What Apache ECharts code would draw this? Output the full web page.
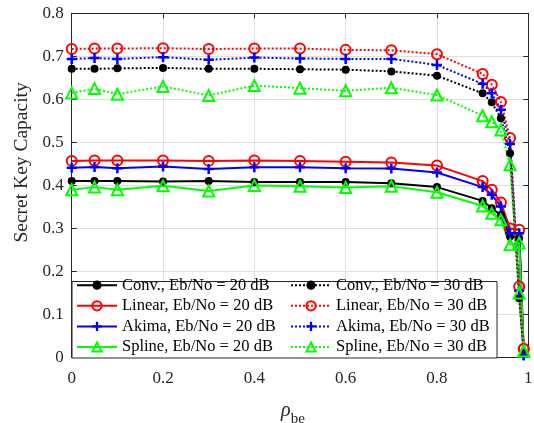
<!DOCTYPE html>
<html>
<head>
<meta charset="utf-8">
<script src="https://cdn.jsdelivr.net/npm/echarts@6/dist/echarts.min.js"></script>
<style>
html,body{margin:0;padding:0;background:#fff;}
#c{width:534px;height:423px;}
</style>
</head>
<body>
<div id="c"></div>
<script>
const rho = [0, 0.05, 0.1, 0.2, 0.3, 0.4, 0.5, 0.6, 0.7, 0.8, 0.9, 0.92, 0.94, 0.96, 0.98, 0.99];

const conv20   = [0.410,0.410,0.410,0.409,0.410,0.408,0.408,0.408,0.405,0.396,0.364,0.347,0.331,0.281,0.277,0.010];
const linear20 = [0.457,0.458,0.458,0.458,0.457,0.458,0.457,0.455,0.453,0.446,0.410,0.390,0.360,0.300,0.297,0.020];
const akima20  = [0.441,0.443,0.440,0.444,0.438,0.442,0.442,0.440,0.439,0.430,0.396,0.378,0.351,0.289,0.289,0.005];
const spline20 = [0.390,0.396,0.390,0.399,0.387,0.400,0.398,0.395,0.398,0.384,0.352,0.335,0.320,0.262,0.266,0.015];

const conv30   = [0.671,0.671,0.672,0.673,0.671,0.671,0.670,0.669,0.665,0.655,0.614,0.593,0.556,0.475,0.138,0.010];
const linear30 = [0.717,0.718,0.718,0.719,0.717,0.718,0.718,0.715,0.714,0.705,0.659,0.634,0.594,0.510,0.165,0.020];
const akima30  = [0.694,0.696,0.694,0.698,0.692,0.697,0.695,0.694,0.694,0.680,0.636,0.614,0.576,0.496,0.155,0.005];
const spline30 = [0.615,0.625,0.612,0.630,0.609,0.632,0.626,0.620,0.627,0.610,0.562,0.548,0.529,0.448,0.150,0.015];

const names20 = ['Conv., Eb/No = 20 dB','Linear, Eb/No = 20 dB','Akima, Eb/No = 20 dB','Spline, Eb/No = 20 dB'];
const names30 = ['Conv., Eb/No = 30 dB','Linear, Eb/No = 30 dB','Akima, Eb/No = 30 dB','Spline, Eb/No = 30 dB'];

const FONT = 'Liberation Serif';
const TXT = '#262626';
const plusPath = 'path://M3,0H5V3H8V5H5V8H3V5H0V3H3Z';

function pairs(ys){ return rho.map((x,i)=>[x, ys[i]]); }

const styles = [
  {color:'#000000', symbol:'circle', size:8, fill:'#000000', bw:0},
  {color:'#ff0000', symbol:'circle', size:10, fill:'rgba(0,0,0,0)', bw:2},
  {color:'#0000ff', symbol:plusPath, size:10, fill:'#0000ff', bw:0},
  {color:'#00ff00', symbol:'triangle', size:11, fill:'rgba(0,0,0,0)', bw:2}
];

function mk(name, ys, st, dotted){
  return {
    name: name, type:'line', data: pairs(ys),
    xAxisIndex:0, yAxisIndex:0,
    symbol: st.symbol, symbolSize: st.size, showSymbol:true,
    lineStyle:{color:st.color, width:2, type: dotted ? [2,2] : 'solid'},
    itemStyle:{color:st.fill, borderColor:st.color, borderWidth:st.bw, opacity:1},
    emphasis:{disabled:true},
    animation:false
  };
}

const series = [
  mk(names20[0], conv20, styles[0], false),
  mk(names20[1], linear20, styles[1], false),
  mk(names20[2], akima20, styles[2], false),
  mk(names20[3], spline20, styles[3], false),
  mk(names30[0], conv30, styles[0], true),
  mk(names30[1], linear30, styles[1], true),
  mk(names30[2], akima30, styles[2], true),
  mk(names30[3], spline30, styles[3], true)
];

const axisCommonX = {
  type:'value', min:0, max:1, interval:0.2,
  axisLine:{show:true, onZero:false, lineStyle:{color:TXT, width:1}},
  axisTick:{show:true, inside:true, length:5, lineStyle:{color:TXT}},
};
const axisCommonY = {
  type:'value', min:0, max:0.8, interval:0.1,
  axisLine:{show:true, onZero:false, lineStyle:{color:TXT, width:1}},
  axisTick:{show:true, inside:true, length:5, lineStyle:{color:TXT}},
};

const legendCommon = {
  orient:'vertical', padding:0, itemWidth:40, itemHeight:11.5, itemGap:3.6,
  textStyle:{fontFamily:FONT, fontSize:16.5, color:'#000'},
  backgroundColor:'transparent', z:5, selectedMode:false
};

const chart = echarts.init(document.getElementById('c'), null, {renderer:'canvas'});
chart.setOption({
  backgroundColor:'#ffffff',
  animation:false,
  grid:{left:71.7, right:5.7, top:13.3, bottom:65.5, containLabel:false, outerBoundsMode:'none'},
  xAxis:[
    Object.assign({}, axisCommonX, {
      position:'bottom',
      name:'{r|ρ}{s|be}', nameLocation:'middle', nameGap:42,
      nameTextStyle:{padding:[0,14,0,0], rich:{
        r:{fontFamily:FONT, fontSize:20, fontStyle:'italic', color:TXT, lineHeight:22},
        s:{fontFamily:FONT, fontSize:15, color:TXT, lineHeight:22, padding:[17,0,0,0]}
      }},
      axisLabel:{show:true, margin:13, fontFamily:FONT, fontSize:17, color:TXT},
      splitLine:{show:true, lineStyle:{color:'#dfdfdf', width:1}}
    }),
    Object.assign({}, axisCommonX, {
      position:'top',
      axisLabel:{show:false}, splitLine:{show:false}
    })
  ],
  yAxis:[
    Object.assign({}, axisCommonY, {
      position:'left',
      name:'Secret Key Capacity', nameLocation:'middle', nameGap:31,
      nameTextStyle:{fontFamily:FONT, fontSize:19.5, color:TXT, padding:[0,0,0,46]},
      axisLabel:{show:true, margin:8, fontFamily:FONT, fontSize:17, color:TXT},
      splitLine:{show:true, lineStyle:{color:'#dfdfdf', width:1}}
    }),
    Object.assign({}, axisCommonY, {
      position:'right',
      axisLabel:{show:false}, splitLine:{show:false}
    })
  ],
  graphic:[{
    type:'rect', z:4, silent:true,
    shape:{x:72, y:281.5, width:425, height:76.5},
    style:{fill:'#ffffff', stroke:TXT, lineWidth:1}
  }],
  legend:[
    Object.assign({}, legendCommon, {left:76, top:276.7, data:names20}),
    Object.assign({}, legendCommon, {left:290, top:276.7, data:names30})
  ],
  series: series
});
</script>
</body>
</html>
